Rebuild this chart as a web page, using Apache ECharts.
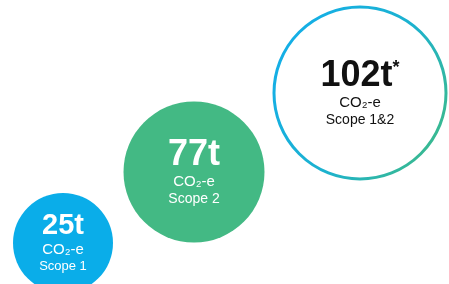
<!DOCTYPE html>
<html>
<head>
<meta charset="utf-8">
<script src="https://cdn.jsdelivr.net/npm/echarts@6/dist/echarts.min.js"></script>
<style>
  html,body{margin:0;padding:0;background:#fff;}
  #chart{width:449px;height:284px;}
</style>
</head>
<body>
<div id="chart"></div>
<script>
// emissions by scope
const scopes = ['Scope 1', 'Scope 2', 'Scope 1&2'];
const values = [25, 77, 102];
const unit = 't';
const unitLabel = 'CO₂-e';
const footnote = [false, false, true];

// bubble layout (px on the hidden axes) and looks
const centerX = [63, 194, 360];
const centerY = [243, 172, 93];
const bubbleSize = [100, 141, 172];
const fills = ['#0aade9', '#43b984', '#ffffff'];
const textColors = ['#ffffff', '#ffffff', '#111111'];
const valueFont = [29, 36, 36];
const scopeFont = [13, 14, 14];

const chart = echarts.init(document.getElementById('chart'));

const ring = new echarts.graphic.LinearGradient(0, 0.2, 1, 0.8, [
  { offset: 0, color: '#13aee9' },
  { offset: 0.55, color: '#1cb2cf' },
  { offset: 1, color: '#3dba88' }
]);

const seriesData = values.map(function (v, i) {
  const c = textColors[i];
  return {
    value: [centerX[i], centerY[i], v],
    symbolSize: bubbleSize[i],
    itemStyle: {
      color: fills[i],
      opacity: 1,
      borderColor: i === 2 ? ring : fills[i],
      borderWidth: i === 2 ? 3 : 0
    },
    label: {
      show: true,
      position: 'inside',
      formatter: '{v|' + v + unit + '}' + (footnote[i] ? '{sup|*}' : '') +
        '\n{u|' + unitLabel + '}\n{s|' + scopes[i] + '}',
      rich: {
        v: { fontSize: valueFont[i], fontWeight: 'bold', color: c, lineHeight: valueFont[i], fontFamily: 'Liberation Sans' },
        sup: { fontSize: 18, fontWeight: 'bold', color: c, padding: [0, 0, 16, 0], fontFamily: 'Liberation Sans' },
        u: { fontSize: 15, color: c, lineHeight: 18, fontFamily: 'Liberation Sans' },
        s: { fontSize: scopeFont[i], color: c, lineHeight: 16, fontFamily: 'Liberation Sans' }
      }
    }
  };
});

chart.setOption({
  animation: false,
  grid: { left: 0, right: 0, top: 0, bottom: 0 },
  xAxis: { type: 'value', min: 0, max: 449, show: false },
  yAxis: { type: 'value', min: 0, max: 284, inverse: true, show: false },
  series: [{
    type: 'scatter',
    symbol: 'circle',
    data: seriesData,
    emphasis: { disabled: true }
  }]
});
</script>
</body>
</html>
